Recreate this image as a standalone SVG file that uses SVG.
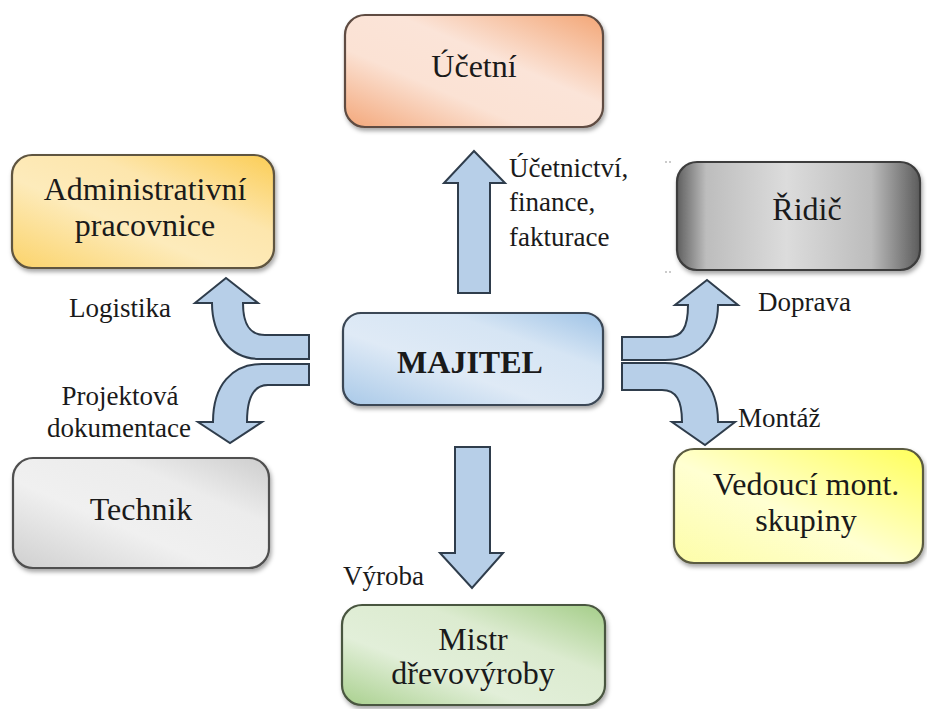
<svg xmlns="http://www.w3.org/2000/svg" width="927" height="709" viewBox="0 0 927 709">
<defs>
<style>
.box{stroke-width:2.2;filter:url(#sh)}
.bt{font-size:32px;fill:#1a1a1a;text-anchor:middle}
.lb{font-size:27px;fill:#1a1a1a}
.arr{fill:#b7cfe8;stroke:#2f3d4c;stroke-width:2;stroke-linejoin:miter}
</style>
<filter id="sh" x="-10%" y="-10%" width="125%" height="130%">
<feDropShadow dx="1.5" dy="3" stdDeviation="2" flood-color="#000" flood-opacity="0.35"/>
</filter>
<linearGradient id="gOrange" x1="0" y1="1" x2="1" y2="0">
<stop offset="0" stop-color="#f3a77a"/><stop offset="0.35" stop-color="#fbe2d4"/><stop offset="0.6" stop-color="#fbe4d8"/><stop offset="1" stop-color="#f3a676"/>
</linearGradient>
<linearGradient id="gYellowO" x1="0" y1="1" x2="1" y2="0">
<stop offset="0" stop-color="#fbd36a"/><stop offset="0.4" stop-color="#fdebbb"/><stop offset="0.65" stop-color="#fde6ad"/><stop offset="1" stop-color="#fbcd55"/>
</linearGradient>
<linearGradient id="gGray" x1="0" y1="0" x2="1" y2="0">
<stop offset="0" stop-color="#5f5f5f"/><stop offset="0.12" stop-color="#bdbdbd"/><stop offset="0.45" stop-color="#dcdcdc"/><stop offset="0.8" stop-color="#bcbcbc"/><stop offset="1" stop-color="#5c5c5c"/>
</linearGradient>
<linearGradient id="gLight" x1="0" y1="1" x2="1" y2="0">
<stop offset="0" stop-color="#cfcfcf"/><stop offset="0.4" stop-color="#f0f0f0"/><stop offset="0.7" stop-color="#ececec"/><stop offset="1" stop-color="#cdcdcd"/>
</linearGradient>
<linearGradient id="gYellow" x1="0" y1="1" x2="1" y2="0">
<stop offset="0" stop-color="#fdfda8"/><stop offset="0.45" stop-color="#ffffd2"/><stop offset="1" stop-color="#ffff5a"/>
</linearGradient>
<linearGradient id="gGreen" x1="0" y1="1" x2="1" y2="0">
<stop offset="0" stop-color="#a9d08e"/><stop offset="0.35" stop-color="#e2efd9"/><stop offset="0.65" stop-color="#dcebd0"/><stop offset="1" stop-color="#a4cd88"/>
</linearGradient>
<linearGradient id="gBlue" x1="0" y1="1" x2="1" y2="0">
<stop offset="0" stop-color="#a9c9e8"/><stop offset="0.4" stop-color="#dfeaf6"/><stop offset="0.7" stop-color="#d6e5f4"/><stop offset="1" stop-color="#9fc3e6"/>
</linearGradient>
</defs>
<rect width="927" height="709" fill="#ffffff"/>

<g id="connectors">
<path class="arr" d="M458,293 L458,183 L444,183 L474,151 L505,183 L490,183 L490,293 Z"/>
<path class="arr" d="M455,447 L490,447 L490,553 L503,553 L472,588 L440,553 L455,553 Z"/>
<path class="arr" d="M309,335 L265,335 C250,335 243,325 243,303 L258,303 L226,278 L195,303 L212,303 C212,335 230,359 260,359 L309,359 Z"/>
<path class="arr" d="M309,364 L262,364 C232,364 213,385 213,422 L198,422 L230,443 L262,422 L247,422 C247,400 252,385 268,385 L309,385 Z"/>
<path class="arr" d="M622,337 L668,337 C682,337 688,328 688,305 L675,305 L707,280 L738,305 L718,305 C718,340 695,360 665,360 L622,360 Z"/>
<path class="arr" d="M622,363 L665,363 C697,363 718,385 718,422 L735,422 L705,445 L672,422 L682,422 C682,400 676,390 662,390 L622,390 Z"/>
</g>

<g font-family="Liberation Serif, Times New Roman, DejaVu Serif, serif">
<g id="labels">
<text class="lb" x="509" y="177">Účetnictví,</text>
<text class="lb" x="509" y="211">finance,</text>
<text class="lb" x="509" y="246">fakturace</text>
<text class="lb" x="120" y="317" text-anchor="middle">Logistika</text>
<text class="lb" x="120" y="405" text-anchor="middle">Projektová</text>
<text class="lb" x="119" y="437" text-anchor="middle">dokumentace</text>
<text class="lb" x="758" y="311">Doprava</text>
<text class="lb" x="738" y="427">Montáž</text>
<text class="lb" x="343" y="585">Výroba</text>
<g fill="#888"><circle cx="666" cy="162" r="0.8"/><circle cx="670" cy="162" r="0.8"/><circle cx="666" cy="272" r="0.8"/><circle cx="670" cy="272" r="0.8"/></g>
</g>

<g id="ucetni">
<rect class="box" x="345" y="15" width="258" height="112" rx="20" fill="url(#gOrange)" stroke="#5e4c42"/>
<text class="bt" x="474" y="77">Účetní</text>
</g>
<g id="administrativni">
<rect class="box" x="12" y="155" width="262" height="113" rx="20" fill="url(#gYellowO)" stroke="#5e5440"/>
<text class="bt" x="145" y="200">Administrativní</text>
<text class="bt" x="145" y="236">pracovnice</text>
</g>
<g id="ridic">
<rect class="box" x="677" y="162" width="243" height="108" rx="20" fill="url(#gGray)" stroke="#3d3d3d"/>
<text class="bt" x="807" y="220">Řidič</text>
</g>
<g id="majitel">
<rect class="box" x="343" y="313" width="260" height="92" rx="18" fill="url(#gBlue)" stroke="#3a4654"/>
<text class="bt" x="470" y="373" font-weight="bold" font-size="33">MAJITEL</text>
</g>
<g id="technik">
<rect class="box" x="13" y="458" width="256" height="110" rx="20" fill="url(#gLight)" stroke="#4f4f4f"/>
<text class="bt" x="141" y="520">Technik</text>
</g>
<g id="vedouci">
<rect class="box" x="674" y="449" width="249" height="114" rx="20" fill="url(#gYellow)" stroke="#5a5a40"/>
<text class="bt" x="806" y="495">Vedoucí mont.</text>
<text class="bt" x="806" y="531">skupiny</text>
</g>
<g id="mistr">
<rect class="box" x="342" y="605" width="263" height="100" rx="20" fill="url(#gGreen)" stroke="#4a5640"/>
<text class="bt" x="473" y="650">Mistr</text>
<text class="bt" x="473" y="684">dřevovýroby</text>
</g>
</g>
</svg>
